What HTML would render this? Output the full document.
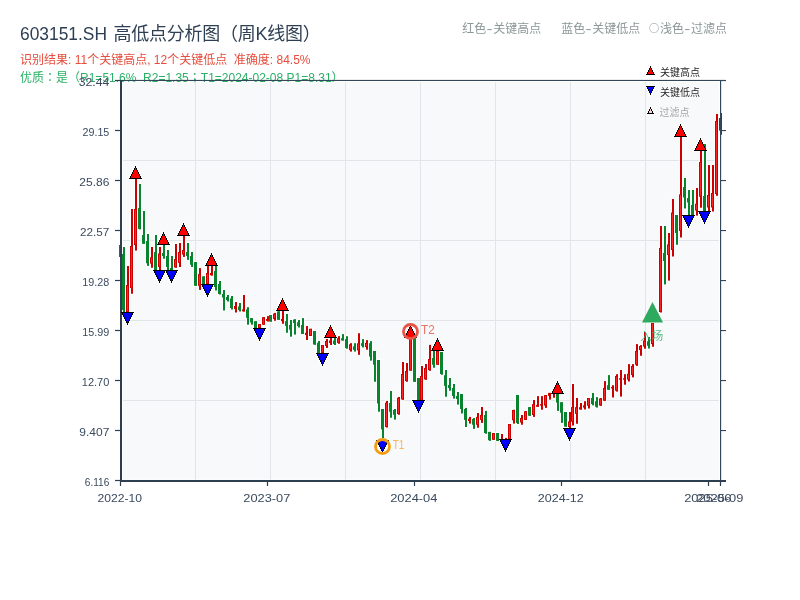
<!DOCTYPE html>
<html><head><meta charset="utf-8"><title>603151.SH</title>
<style>
html,body{margin:0;padding:0;background:#fff;}
body{width:800px;height:600px;overflow:hidden;position:relative;font-family:"Liberation Sans","Noto Sans CJK SC",sans-serif;}
svg{position:absolute;left:0;top:0;will-change:transform;}
svg text{font-family:"Liberation Sans","Noto Sans CJK SC",sans-serif;white-space:pre;}
</style></head><body>
<svg width="800" height="600" viewBox="0 0 800 600">

<text y="40" font-size="18" fill="#2f4054"><tspan x="20" textLength="87" lengthAdjust="spacingAndGlyphs">603151.SH</tspan><tspan x="108.65" letter-spacing="-0.25" xml:space="preserve"> 高低点分析图（周K线图）</tspan></text>
<text x="20" y="63.8" font-size="12" fill="#e74c3c" xml:space="preserve">识别结果: 11个关键高点, 12个关键低点  准确度: 84.5%</text>
<text x="20" y="81.5" font-size="12" fill="#2bb066" xml:space="preserve">优质<tspan font-family="Noto Sans CJK JP,Noto Sans CJK SC,sans-serif">：</tspan>是（R1=51.6%  R2=1.35<tspan font-family="Noto Sans CJK JP,Noto Sans CJK SC,sans-serif">；</tspan>T1=2024-02-08 P1=8.31）</text>
<text y="33" font-size="12" fill="#8b9798"><tspan x="462.2">红色</tspan><tspan x="486.5" textLength="6" lengthAdjust="spacingAndGlyphs">-</tspan><tspan x="493.2">关键高点</tspan></text>
<text y="33" font-size="12" fill="#8b9798"><tspan x="561.2">蓝色</tspan><tspan x="585.5" textLength="6" lengthAdjust="spacingAndGlyphs">-</tspan><tspan x="592.2">关键低点</tspan></text>
<text y="33" font-size="12" fill="#8b9798"><tspan x="648.9" dy="-0.6" font-size="10.2" font-family="Noto Sans CJK SC,sans-serif">○</tspan><tspan dy="0.6" font-size="1"> </tspan><tspan x="660">浅色</tspan><tspan x="684.3" textLength="6" lengthAdjust="spacingAndGlyphs">-</tspan><tspan x="691">过滤点</tspan></text>
<rect x="123" y="82.2" width="595.75" height="397.4" fill="#f8f9fb"/>
<rect x="195" y="82.2" width="1" height="397.4" fill="#e1e5ea"/>
<rect x="270" y="82.2" width="1" height="397.4" fill="#e1e5ea"/>
<rect x="345" y="82.2" width="1" height="397.4" fill="#e1e5ea"/>
<rect x="420" y="82.2" width="1" height="397.4" fill="#e1e5ea"/>
<rect x="495" y="82.2" width="1" height="397.4" fill="#e1e5ea"/>
<rect x="570" y="82.2" width="1" height="397.4" fill="#e1e5ea"/>
<rect x="645" y="82.2" width="1" height="397.4" fill="#e1e5ea"/>
<rect x="123" y="160" width="595.75" height="1" fill="#e1e5ea"/>
<rect x="123" y="240" width="595.75" height="1" fill="#e1e5ea"/>
<rect x="123" y="320" width="595.75" height="1" fill="#e1e5ea"/>
<rect x="123" y="400" width="595.75" height="1" fill="#e1e5ea"/>
<rect x="115" y="79.9" width="5" height="1.2" fill="#2c3e50"/>
<text x="109.3" y="85.9" font-size="11" fill="#3a4a5e" text-anchor="end" textLength="30.5" lengthAdjust="spacingAndGlyphs">32.44</text>
<rect x="115" y="129.9" width="5" height="1.2" fill="#2c3e50"/>
<text x="109.3" y="135.9" font-size="11" fill="#3a4a5e" text-anchor="end" textLength="26.8" lengthAdjust="spacingAndGlyphs">29.15</text>
<rect x="115" y="179.9" width="5" height="1.2" fill="#2c3e50"/>
<text x="109.3" y="185.9" font-size="11" fill="#3a4a5e" text-anchor="end" textLength="30" lengthAdjust="spacingAndGlyphs">25.86</text>
<rect x="115" y="229.9" width="5" height="1.2" fill="#2c3e50"/>
<text x="109.3" y="235.9" font-size="11" fill="#3a4a5e" text-anchor="end" textLength="29.3" lengthAdjust="spacingAndGlyphs">22.57</text>
<rect x="115" y="279.9" width="5" height="1.2" fill="#2c3e50"/>
<text x="109.3" y="285.9" font-size="11" fill="#3a4a5e" text-anchor="end" textLength="27" lengthAdjust="spacingAndGlyphs">19.28</text>
<rect x="115" y="329.9" width="5" height="1.2" fill="#2c3e50"/>
<text x="109.3" y="335.9" font-size="11" fill="#3a4a5e" text-anchor="end" textLength="27" lengthAdjust="spacingAndGlyphs">15.99</text>
<rect x="115" y="379.9" width="5" height="1.2" fill="#2c3e50"/>
<text x="109.3" y="385.9" font-size="11" fill="#3a4a5e" text-anchor="end" textLength="27.5" lengthAdjust="spacingAndGlyphs">12.70</text>
<rect x="115" y="429.9" width="5" height="1.2" fill="#2c3e50"/>
<text x="109.3" y="435.9" font-size="11" fill="#3a4a5e" text-anchor="end" textLength="30" lengthAdjust="spacingAndGlyphs">9.407</text>
<rect x="115" y="479.9" width="5" height="1.2" fill="#2c3e50"/>
<text x="109.3" y="485.9" font-size="11" fill="#3a4a5e" text-anchor="end" textLength="24.5" lengthAdjust="spacingAndGlyphs">6.116</text>
<rect x="119.9" y="481" width="1.2" height="5" fill="#2c3e50"/>
<text x="119.8" y="502" font-size="11" fill="#3a4a5e" text-anchor="middle" textLength="44.6" lengthAdjust="spacingAndGlyphs">2022-10</text>
<rect x="266.9" y="481" width="1.2" height="5" fill="#2c3e50"/>
<text x="266.8" y="502" font-size="11" fill="#3a4a5e" text-anchor="middle" textLength="47" lengthAdjust="spacingAndGlyphs">2023-07</text>
<rect x="413.9" y="481" width="1.2" height="5" fill="#2c3e50"/>
<text x="413.8" y="502" font-size="11" fill="#3a4a5e" text-anchor="middle" textLength="47.3" lengthAdjust="spacingAndGlyphs">2024-04</text>
<rect x="560.9" y="481" width="1.2" height="5" fill="#2c3e50"/>
<text x="560.8" y="502" font-size="11" fill="#3a4a5e" text-anchor="middle" textLength="45.9" lengthAdjust="spacingAndGlyphs">2024-12</text>
<rect x="707.9" y="481" width="1.2" height="5" fill="#2c3e50"/>
<text x="707.8" y="502" font-size="11" fill="#3a4a5e" text-anchor="middle" textLength="47.3" lengthAdjust="spacingAndGlyphs">2025-06</text>
<rect x="719.9" y="481" width="1.2" height="5" fill="#2c3e50"/>
<text x="719.8" y="502" font-size="11" fill="#3a4a5e" text-anchor="middle" textLength="47.3" lengthAdjust="spacingAndGlyphs">2025-09</text>
<g id="mhalo"><path d="M135.5 167.12 L141.19 178.5 L129.81 178.5 Z" fill="none" stroke="#fff" stroke-opacity="0.85" stroke-width="3"/><path d="M163.5 233.12 L169.19 244.5 L157.81 244.5 Z" fill="none" stroke="#fff" stroke-opacity="0.85" stroke-width="3"/><path d="M183.5 224.12 L189.19 235.5 L177.81 235.5 Z" fill="none" stroke="#fff" stroke-opacity="0.85" stroke-width="3"/><path d="M211.5 254.12 L217.19 265.5 L205.81 265.5 Z" fill="none" stroke="#fff" stroke-opacity="0.85" stroke-width="3"/><path d="M282.5 299.12 L288.19 310.5 L276.81 310.5 Z" fill="none" stroke="#fff" stroke-opacity="0.85" stroke-width="3"/><path d="M330.5 326.12 L336.19 337.5 L324.81 337.5 Z" fill="none" stroke="#fff" stroke-opacity="0.85" stroke-width="3"/><path d="M437.5 339.12 L443.19 350.5 L431.81 350.5 Z" fill="none" stroke="#fff" stroke-opacity="0.85" stroke-width="3"/><path d="M557.5 382.12 L563.19 393.5 L551.81 393.5 Z" fill="none" stroke="#fff" stroke-opacity="0.85" stroke-width="3"/><path d="M680.5 125.12 L686.19 136.5 L674.81 136.5 Z" fill="none" stroke="#fff" stroke-opacity="0.85" stroke-width="3"/><path d="M700.5 139.12 L706.19 150.5 L694.81 150.5 Z" fill="none" stroke="#fff" stroke-opacity="0.85" stroke-width="3"/><path d="M127.5 323.88 L133.19 312.5 L121.81 312.5 Z" fill="none" stroke="#fff" stroke-opacity="0.85" stroke-width="3"/><path d="M159.5 281.88 L165.19 270.5 L153.81 270.5 Z" fill="none" stroke="#fff" stroke-opacity="0.85" stroke-width="3"/><path d="M171.5 281.88 L177.19 270.5 L165.81 270.5 Z" fill="none" stroke="#fff" stroke-opacity="0.85" stroke-width="3"/><path d="M207.5 295.88 L213.19 284.5 L201.81 284.5 Z" fill="none" stroke="#fff" stroke-opacity="0.85" stroke-width="3"/><path d="M259.5 339.88 L265.19 328.5 L253.81 328.5 Z" fill="none" stroke="#fff" stroke-opacity="0.85" stroke-width="3"/><path d="M322.5 364.88 L328.19 353.5 L316.81 353.5 Z" fill="none" stroke="#fff" stroke-opacity="0.85" stroke-width="3"/><path d="M418.5 411.88 L424.19 400.5 L412.81 400.5 Z" fill="none" stroke="#fff" stroke-opacity="0.85" stroke-width="3"/><path d="M505.5 450.88 L511.19 439.5 L499.81 439.5 Z" fill="none" stroke="#fff" stroke-opacity="0.85" stroke-width="3"/><path d="M569.5 439.88 L575.19 428.5 L563.81 428.5 Z" fill="none" stroke="#fff" stroke-opacity="0.85" stroke-width="3"/><path d="M688.5 226.88 L694.19 215.5 L682.81 215.5 Z" fill="none" stroke="#fff" stroke-opacity="0.85" stroke-width="3"/><path d="M704.5 222.88 L710.19 211.5 L698.81 211.5 Z" fill="none" stroke="#fff" stroke-opacity="0.85" stroke-width="3"/><path d="M382.5 451.88 L388.19 440.5 L376.81 440.5 Z" fill="none" stroke="#fff" stroke-opacity="0.85" stroke-width="3"/><path d="M410.5 326.12 L416.19 337.5 L404.81 337.5 Z" fill="none" stroke="#fff" stroke-opacity="0.85" stroke-width="3"/><path d="M650.5 67.12 L654.19 74.5 L646.81 74.5 Z" fill="none" stroke="#fff" stroke-opacity="0.85" stroke-width="3"/><path d="M650.5 93.88 L654.19 86.5 L646.81 86.5 Z" fill="none" stroke="#fff" stroke-opacity="0.85" stroke-width="3"/><path d="M650.5 108.12 L653.19 113.5 L647.81 113.5 Z" fill="none" stroke="#fff" stroke-opacity="0.85" stroke-width="3"/></g>
<g id="halo" fill="#ffffff" fill-opacity="0.9">
<rect x="122.2" y="246.2" width="3.6" height="67.1"/>
<rect x="121.2" y="253.2" width="4.6" height="57.6"/>
<rect x="126.2" y="265.2" width="3.6" height="48.1"/>
<rect x="125.2" y="284.2" width="4.6" height="28.6"/>
<rect x="130.2" y="208.2" width="3.6" height="86.35"/>
<rect x="129.2" y="245.2" width="4.6" height="43.6"/>
<rect x="134.2" y="177.95" width="3.6" height="73.45"/>
<rect x="133.2" y="208.2" width="4.6" height="37.6"/>
<rect x="138.2" y="183.2" width="3.6" height="47"/>
<rect x="137.2" y="207.2" width="4.6" height="22.6"/>
<rect x="142.2" y="210.2" width="3.6" height="34.35"/>
<rect x="141.2" y="234.2" width="4.6" height="10.35"/>
<rect x="146.2" y="233.2" width="3.6" height="33.5"/>
<rect x="145.2" y="240.2" width="4.6" height="23.85"/>
<rect x="150.2" y="246.2" width="3.6" height="22.35"/>
<rect x="149.2" y="256.45" width="4.6" height="7.95"/>
<rect x="154.2" y="234.2" width="3.6" height="37.35"/>
<rect x="153.2" y="251.2" width="4.6" height="19.6"/>
<rect x="158.2" y="246.2" width="3.6" height="25.35"/>
<rect x="157.2" y="252.7" width="4.6" height="15.1"/>
<rect x="162.2" y="244.2" width="3.6" height="15.35"/>
<rect x="161.2" y="252.2" width="4.6" height="4.6"/>
<rect x="166.2" y="249.2" width="3.6" height="21.6"/>
<rect x="165.2" y="255.2" width="4.6" height="12.6"/>
<rect x="170.2" y="255.2" width="3.6" height="15.6"/>
<rect x="169.2" y="267.2" width="4.6" height="3.6"/>
<rect x="174.2" y="243.2" width="3.6" height="25.35"/>
<rect x="173.2" y="258.2" width="4.6" height="10"/>
<rect x="178.2" y="242.2" width="3.6" height="25.6"/>
<rect x="177.2" y="251.2" width="4.6" height="12.5"/>
<rect x="182.2" y="235.2" width="3.6" height="22.5"/>
<rect x="181.2" y="249.2" width="4.6" height="6.2"/>
<rect x="186.2" y="242.2" width="3.6" height="18.5"/>
<rect x="185.2" y="251.2" width="4.6" height="5.6"/>
<rect x="190.2" y="251.2" width="3.6" height="16.6"/>
<rect x="189.2" y="255.2" width="4.6" height="10.35"/>
<rect x="194.2" y="261.3" width="3.6" height="25.25"/>
<rect x="193.2" y="261.3" width="4.6" height="25.25"/>
<rect x="198.2" y="267.3" width="3.6" height="23.4"/>
<rect x="197.2" y="273.3" width="4.6" height="13.25"/>
<rect x="202.2" y="275.6" width="3.6" height="9.6"/>
<rect x="201.2" y="275.6" width="4.6" height="9.6"/>
<rect x="206.2" y="265.1" width="3.6" height="19.7"/>
<rect x="205.2" y="272.2" width="4.6" height="12.6"/>
<rect x="210.2" y="265.1" width="3.6" height="11.3"/>
<rect x="209.2" y="272.2" width="4.6" height="3.85"/>
<rect x="214.2" y="264.8" width="3.6" height="26.5"/>
<rect x="213.2" y="270.2" width="4.6" height="17.6"/>
<rect x="218.2" y="280.2" width="3.6" height="15.1"/>
<rect x="217.2" y="283.2" width="4.6" height="11.6"/>
<rect x="222.2" y="289.2" width="3.6" height="22.1"/>
<rect x="221.2" y="293.2" width="4.6" height="5.1"/>
<rect x="226.2" y="294.2" width="3.6" height="8.1"/>
<rect x="225.2" y="296.2" width="4.6" height="4.6"/>
<rect x="230.2" y="295.2" width="3.6" height="15.1"/>
<rect x="229.2" y="297.7" width="4.6" height="11.1"/>
<rect x="234.2" y="301.2" width="3.6" height="12.1"/>
<rect x="233.2" y="305.2" width="4.6" height="4.6"/>
<rect x="238.2" y="302.2" width="3.6" height="10.1"/>
<rect x="237.2" y="305.7" width="4.6" height="5.1"/>
<rect x="242.2" y="294.2" width="3.6" height="18.2"/>
<rect x="241.2" y="308.6" width="4.6" height="3.5"/>
<rect x="246.2" y="306.4" width="3.6" height="19.1"/>
<rect x="245.2" y="308.6" width="4.6" height="10"/>
<rect x="250.2" y="317.3" width="3.6" height="8.2"/>
<rect x="249.2" y="317.3" width="4.6" height="6"/>
<rect x="254.2" y="320.45" width="3.6" height="8.45"/>
<rect x="253.2" y="320.45" width="4.6" height="8.45"/>
<rect x="258.2" y="323.2" width="3.6" height="5.7"/>
<rect x="257.2" y="323.2" width="4.6" height="5.7"/>
<rect x="262.2" y="316.4" width="3.6" height="9.1"/>
<rect x="261.2" y="316.4" width="4.6" height="9.1"/>
<rect x="266.2" y="315.3" width="3.6" height="7.1"/>
<rect x="265.2" y="318.2" width="4.6" height="3.5"/>
<rect x="269.2" y="314.3" width="3.6" height="8.1"/>
<rect x="268.2" y="314.3" width="4.6" height="8.1"/>
<rect x="273.2" y="312.1" width="3.6" height="9.45"/>
<rect x="272.2" y="312.8" width="4.6" height="6.9"/>
<rect x="277.2" y="310.6" width="3.6" height="10"/>
<rect x="276.2" y="310.6" width="4.6" height="10"/>
<rect x="281.2" y="310.2" width="3.6" height="14.35"/>
<rect x="280.2" y="318.1" width="4.6" height="3.8"/>
<rect x="285.2" y="313.2" width="3.6" height="20.35"/>
<rect x="284.2" y="320.3" width="4.6" height="6.5"/>
<rect x="289.2" y="319.2" width="3.6" height="18.3"/>
<rect x="288.2" y="324.1" width="4.6" height="6.45"/>
<rect x="293.2" y="318.45" width="3.6" height="16.95"/>
<rect x="292.2" y="318.8" width="4.6" height="5"/>
<rect x="297.2" y="319.2" width="3.6" height="9.1"/>
<rect x="296.2" y="321.45" width="4.6" height="5.35"/>
<rect x="301.2" y="317.3" width="3.6" height="17.5"/>
<rect x="300.2" y="324.2" width="4.6" height="10.6"/>
<rect x="305.2" y="325.2" width="3.6" height="15.6"/>
<rect x="304.2" y="331.9" width="4.6" height="3.9"/>
<rect x="309.2" y="328" width="3.6" height="8.8"/>
<rect x="308.2" y="328" width="4.6" height="8.8"/>
<rect x="313.2" y="330.2" width="3.6" height="15.35"/>
<rect x="312.2" y="330.2" width="4.6" height="15.1"/>
<rect x="317.2" y="340.2" width="3.6" height="13.8"/>
<rect x="316.2" y="342" width="4.6" height="12"/>
<rect x="321.2" y="344.2" width="3.6" height="9.6"/>
<rect x="320.2" y="344.2" width="4.6" height="9.6"/>
<rect x="325.2" y="338.2" width="3.6" height="10.6"/>
<rect x="324.2" y="340.2" width="4.6" height="6.6"/>
<rect x="329.2" y="336.8" width="3.6" height="9"/>
<rect x="328.2" y="339.7" width="4.6" height="4.1"/>
<rect x="333.2" y="336.8" width="3.6" height="9"/>
<rect x="332.2" y="339.7" width="4.6" height="5.1"/>
<rect x="337.2" y="335.4" width="3.6" height="9.15"/>
<rect x="336.2" y="337.4" width="4.6" height="6.3"/>
<rect x="341.2" y="333.3" width="3.6" height="8"/>
<rect x="340.2" y="337.4" width="4.6" height="3.9"/>
<rect x="345.2" y="335.4" width="3.6" height="14.1"/>
<rect x="344.2" y="338.3" width="4.6" height="10.6"/>
<rect x="349.2" y="342.4" width="3.6" height="10"/>
<rect x="348.2" y="343.5" width="4.6" height="7.5"/>
<rect x="353.2" y="342.4" width="3.6" height="10"/>
<rect x="352.2" y="345.6" width="4.6" height="5.1"/>
<rect x="357.2" y="332.45" width="3.6" height="23.15"/>
<rect x="356.2" y="342.5" width="4.6" height="8.7"/>
<rect x="361.2" y="338.3" width="3.6" height="10"/>
<rect x="360.2" y="342.4" width="4.6" height="4.2"/>
<rect x="365.2" y="339.3" width="3.6" height="11.2"/>
<rect x="364.2" y="342.2" width="4.6" height="5.6"/>
<rect x="369.2" y="340.3" width="3.6" height="21.15"/>
<rect x="368.2" y="342.4" width="4.6" height="15"/>
<rect x="373.2" y="350.2" width="3.6" height="32.35"/>
<rect x="372.2" y="350.2" width="4.6" height="15.2"/>
<rect x="377.2" y="359.2" width="3.6" height="53.35"/>
<rect x="376.2" y="359.2" width="4.6" height="45.1"/>
<rect x="381.2" y="408.2" width="3.6" height="30.6"/>
<rect x="380.2" y="408.2" width="4.6" height="22"/>
<rect x="385.2" y="400.1" width="3.6" height="28.2"/>
<rect x="384.2" y="401.95" width="4.6" height="25.85"/>
<rect x="389.2" y="390.2" width="3.6" height="28.35"/>
<rect x="388.2" y="402.2" width="4.6" height="10.35"/>
<rect x="393.2" y="408.2" width="3.6" height="12.2"/>
<rect x="392.2" y="409.2" width="4.6" height="6.35"/>
<rect x="397.2" y="396.2" width="3.6" height="19.35"/>
<rect x="396.2" y="396.95" width="4.6" height="17.85"/>
<rect x="401.2" y="361.2" width="3.6" height="39.35"/>
<rect x="400.2" y="373.2" width="4.6" height="27"/>
<rect x="405.2" y="362.2" width="3.6" height="20.35"/>
<rect x="404.2" y="370.2" width="4.6" height="11.6"/>
<rect x="409.2" y="336.2" width="3.6" height="35.2"/>
<rect x="408.2" y="336.2" width="4.6" height="35.2"/>
<rect x="413.2" y="336.7" width="3.6" height="45.85"/>
<rect x="412.2" y="336.7" width="4.6" height="45.85"/>
<rect x="417.2" y="377.2" width="3.6" height="24.1"/>
<rect x="416.2" y="377.2" width="4.6" height="24.1"/>
<rect x="420.2" y="365.2" width="3.6" height="36.1"/>
<rect x="419.2" y="375.1" width="4.6" height="26.2"/>
<rect x="424.2" y="363.2" width="3.6" height="17.35"/>
<rect x="423.2" y="367.2" width="4.6" height="13"/>
<rect x="428.2" y="344.1" width="3.6" height="27.45"/>
<rect x="427.2" y="358.2" width="4.6" height="12.6"/>
<rect x="432.2" y="350.1" width="3.6" height="18.45"/>
<rect x="431.2" y="357.2" width="4.6" height="8.35"/>
<rect x="436.2" y="350.1" width="3.6" height="15.45"/>
<rect x="435.2" y="350.1" width="4.6" height="15.45"/>
<rect x="440.2" y="351.2" width="3.6" height="24.35"/>
<rect x="439.2" y="351.2" width="4.6" height="23.6"/>
<rect x="444.2" y="369.2" width="3.6" height="28.35"/>
<rect x="443.2" y="374.45" width="4.6" height="12.25"/>
<rect x="448.2" y="377.2" width="3.6" height="14.35"/>
<rect x="447.2" y="384.2" width="4.6" height="4.6"/>
<rect x="452.2" y="383.2" width="3.6" height="16.2"/>
<rect x="451.2" y="387.2" width="4.6" height="9.6"/>
<rect x="456.2" y="391.2" width="3.6" height="14.2"/>
<rect x="455.2" y="395.2" width="4.6" height="4.6"/>
<rect x="460.2" y="393.2" width="3.6" height="21.1"/>
<rect x="459.2" y="393.2" width="4.6" height="16.6"/>
<rect x="464.2" y="407.1" width="3.6" height="20.7"/>
<rect x="463.2" y="408.2" width="4.6" height="12.5"/>
<rect x="468.2" y="416.1" width="3.6" height="8.3"/>
<rect x="467.2" y="417.95" width="4.6" height="3.85"/>
<rect x="472.2" y="417.2" width="3.6" height="12.5"/>
<rect x="471.2" y="418.2" width="4.6" height="7.35"/>
<rect x="476.2" y="412.2" width="3.6" height="16.35"/>
<rect x="475.2" y="416.1" width="4.6" height="9.45"/>
<rect x="480.2" y="406.2" width="3.6" height="17.5"/>
<rect x="479.2" y="414.2" width="4.6" height="6.5"/>
<rect x="484.2" y="410.1" width="3.6" height="24.45"/>
<rect x="483.2" y="414.2" width="4.6" height="19.6"/>
<rect x="488.2" y="431.1" width="3.6" height="10.6"/>
<rect x="487.2" y="431.1" width="4.6" height="9.9"/>
<rect x="492.2" y="432.2" width="3.6" height="8.35"/>
<rect x="491.2" y="432.2" width="4.6" height="8.35"/>
<rect x="496.2" y="432.2" width="3.6" height="9.5"/>
<rect x="495.2" y="432.2" width="4.6" height="9.5"/>
<rect x="500.2" y="433.2" width="3.6" height="7"/>
<rect x="499.2" y="438.2" width="4.6" height="2"/>
<rect x="504.2" y="437.1" width="3.6" height="3.1"/>
<rect x="503.2" y="438.2" width="4.6" height="2"/>
<rect x="508.2" y="423.2" width="3.6" height="17"/>
<rect x="507.2" y="423.2" width="4.6" height="17"/>
<rect x="512.2" y="408.95" width="3.6" height="15.45"/>
<rect x="511.2" y="409.2" width="4.6" height="11.85"/>
<rect x="516.2" y="394.2" width="3.6" height="30.6"/>
<rect x="515.2" y="394.2" width="4.6" height="29.6"/>
<rect x="520.2" y="414.2" width="3.6" height="11.35"/>
<rect x="519.2" y="417.2" width="4.6" height="6.1"/>
<rect x="524.2" y="410.45" width="3.6" height="10.25"/>
<rect x="523.2" y="410.45" width="4.6" height="10.25"/>
<rect x="528.2" y="406.3" width="3.6" height="10.25"/>
<rect x="527.2" y="406.3" width="4.6" height="10.25"/>
<rect x="532.2" y="399.2" width="3.6" height="18.5"/>
<rect x="531.2" y="403.3" width="4.6" height="12.5"/>
<rect x="536.2" y="395.3" width="3.6" height="12.25"/>
<rect x="535.2" y="404.1" width="4.6" height="3.45"/>
<rect x="540.2" y="395.3" width="3.6" height="15.25"/>
<rect x="539.2" y="403.3" width="4.6" height="3.1"/>
<rect x="544.2" y="394.3" width="3.6" height="14.4"/>
<rect x="543.2" y="394.3" width="4.6" height="12.1"/>
<rect x="548.2" y="392.1" width="3.6" height="8.3"/>
<rect x="547.2" y="392.1" width="4.6" height="4.6"/>
<rect x="552.2" y="393.2" width="3.6" height="5.35"/>
<rect x="556.2" y="393.2" width="3.6" height="18.5"/>
<rect x="555.2" y="393.2" width="4.6" height="10.2"/>
<rect x="560.2" y="401.45" width="3.6" height="22.25"/>
<rect x="559.2" y="401.45" width="4.6" height="12.1"/>
<rect x="564.2" y="411.2" width="3.6" height="16.2"/>
<rect x="563.2" y="411.2" width="4.6" height="16.2"/>
<rect x="568.2" y="411.2" width="3.6" height="17.6"/>
<rect x="567.2" y="420.6" width="4.6" height="7.2"/>
<rect x="571.2" y="383.2" width="3.6" height="43.1"/>
<rect x="570.2" y="406.3" width="4.6" height="16.25"/>
<rect x="575.2" y="397.2" width="3.6" height="27.35"/>
<rect x="574.2" y="406.4" width="4.6" height="8.3"/>
<rect x="579.2" y="402.2" width="3.6" height="8.1"/>
<rect x="578.2" y="406.4" width="4.6" height="3.9"/>
<rect x="583.2" y="400.4" width="3.6" height="9.9"/>
<rect x="582.2" y="404.5" width="4.6" height="3.9"/>
<rect x="587.2" y="397.2" width="3.6" height="12.1"/>
<rect x="586.2" y="397.2" width="4.6" height="9.4"/>
<rect x="591.2" y="392.2" width="3.6" height="13.9"/>
<rect x="590.2" y="397.2" width="4.6" height="7.6"/>
<rect x="595.2" y="396.3" width="3.6" height="12.1"/>
<rect x="594.2" y="400.4" width="4.6" height="7.1"/>
<rect x="599.2" y="397.2" width="3.6" height="9.4"/>
<rect x="598.2" y="397.7" width="4.6" height="8.6"/>
<rect x="603.2" y="380.3" width="3.6" height="21.25"/>
<rect x="602.2" y="387.1" width="4.6" height="14.45"/>
<rect x="607.2" y="374.3" width="3.6" height="16.25"/>
<rect x="606.2" y="384.4" width="4.6" height="6.15"/>
<rect x="611.2" y="384.4" width="3.6" height="13.9"/>
<rect x="610.2" y="386.2" width="4.6" height="3"/>
<rect x="615.2" y="373.4" width="3.6" height="19"/>
<rect x="614.2" y="375.2" width="4.6" height="16.3"/>
<rect x="619.2" y="369.2" width="3.6" height="28.2"/>
<rect x="618.2" y="377.5" width="4.6" height="3"/>
<rect x="623.2" y="373.4" width="3.6" height="12.1"/>
<rect x="622.2" y="377.5" width="4.6" height="3"/>
<rect x="627.2" y="363.3" width="3.6" height="19"/>
<rect x="626.2" y="372.9" width="4.6" height="7.6"/>
<rect x="631.2" y="363.3" width="3.6" height="14.9"/>
<rect x="630.2" y="365.2" width="4.6" height="10.6"/>
<rect x="635.2" y="343.3" width="3.6" height="23.4"/>
<rect x="634.2" y="350.1" width="4.6" height="15.45"/>
<rect x="639.2" y="344.3" width="3.6" height="12.25"/>
<rect x="638.2" y="345.2" width="4.6" height="5.7"/>
<rect x="643.2" y="331.2" width="3.6" height="18.35"/>
<rect x="642.2" y="339.7" width="4.6" height="7.6"/>
<rect x="647.2" y="336.2" width="3.6" height="13.1"/>
<rect x="646.2" y="340.45" width="4.6" height="6.1"/>
<rect x="651.2" y="322.2" width="3.6" height="25.35"/>
<rect x="650.2" y="322.2" width="4.6" height="22.6"/>
<rect x="655.2" y="312.2" width="3.6" height="10.6"/>
<rect x="654.2" y="314" width="4.6" height="7.45"/>
<rect x="659.2" y="225.2" width="3.6" height="88.1"/>
<rect x="658.2" y="247.2" width="4.6" height="65.6"/>
<rect x="663.2" y="225.2" width="3.6" height="60"/>
<rect x="662.2" y="252.2" width="4.6" height="9.6"/>
<rect x="667.2" y="232.2" width="3.6" height="49.2"/>
<rect x="666.2" y="243.6" width="4.6" height="12.2"/>
<rect x="671.2" y="198.2" width="3.6" height="59.1"/>
<rect x="670.2" y="211.7" width="4.6" height="39.1"/>
<rect x="675.2" y="214.2" width="3.6" height="31.35"/>
<rect x="674.2" y="214.2" width="4.6" height="19.6"/>
<rect x="679.2" y="135.7" width="3.6" height="102.6"/>
<rect x="678.2" y="193.6" width="4.6" height="38.2"/>
<rect x="683.2" y="177.2" width="3.6" height="32.1"/>
<rect x="682.2" y="186.2" width="4.6" height="12.1"/>
<rect x="687.2" y="189.2" width="3.6" height="26.6"/>
<rect x="686.2" y="197.2" width="4.6" height="6.1"/>
<rect x="691.2" y="189.2" width="3.6" height="26.6"/>
<rect x="690.2" y="204.2" width="4.6" height="11.6"/>
<rect x="695.2" y="187.2" width="3.6" height="29.2"/>
<rect x="694.2" y="202.95" width="4.6" height="8.45"/>
<rect x="699.2" y="149.8" width="3.6" height="58.7"/>
<rect x="698.2" y="161.2" width="4.6" height="36.3"/>
<rect x="703.2" y="143.2" width="3.6" height="68.85"/>
<rect x="702.2" y="195.2" width="4.6" height="16.6"/>
<rect x="707.2" y="164.2" width="3.6" height="47.6"/>
<rect x="706.2" y="194.2" width="4.6" height="14.1"/>
<rect x="711.2" y="164.2" width="3.6" height="48.1"/>
<rect x="710.2" y="192.2" width="4.6" height="16.1"/>
<rect x="715.2" y="113.2" width="3.6" height="83.4"/>
<rect x="714.2" y="120.2" width="4.6" height="74.6"/>
<rect x="719.2" y="112.2" width="3.6" height="23.35"/>
<rect x="718.2" y="117.2" width="4.6" height="14.2"/>
</g>
<g id="candles">
<rect x="119" y="245" width="1" height="12" fill="#08842e"/>
<rect x="123" y="247" width="2" height="65.5" fill="#08842e"/>
<rect x="122" y="254" width="3" height="56" fill="#08842e"/>
<rect x="127" y="266" width="2" height="46.5" fill="#cc0000"/>
<rect x="126" y="285" width="3" height="27" fill="#cc0000"/>
<rect x="127" y="286" width="1" height="25" fill="#ff2424"/>
<rect x="131" y="209" width="2" height="84.75" fill="#cc0000"/>
<rect x="130" y="246" width="3" height="42" fill="#cc0000"/>
<rect x="131" y="247" width="1" height="40" fill="#ff2424"/>
<rect x="135" y="178.75" width="2" height="71.85" fill="#cc0000"/>
<rect x="134" y="209" width="3" height="36" fill="#cc0000"/>
<rect x="135" y="210" width="1" height="34" fill="#ff2424"/>
<rect x="139" y="184" width="2" height="45.4" fill="#08842e"/>
<rect x="138" y="208" width="3" height="21" fill="#08842e"/>
<rect x="143" y="211" width="2" height="32.75" fill="#08842e"/>
<rect x="142" y="235" width="3" height="8.75" fill="#08842e"/>
<rect x="147" y="234" width="2" height="31.9" fill="#08842e"/>
<rect x="146" y="241" width="3" height="22.25" fill="#08842e"/>
<rect x="151" y="247" width="2" height="20.75" fill="#cc0000"/>
<rect x="150" y="257.25" width="3" height="6.35" fill="#cc0000"/>
<rect x="151" y="258.25" width="1" height="4.35" fill="#ff2424"/>
<rect x="155" y="235" width="2" height="35.75" fill="#08842e"/>
<rect x="154" y="252" width="3" height="18" fill="#08842e"/>
<rect x="159" y="247" width="2" height="23.75" fill="#cc0000"/>
<rect x="158" y="253.5" width="3" height="13.5" fill="#cc0000"/>
<rect x="159" y="254.5" width="1" height="11.5" fill="#ff2424"/>
<rect x="163" y="245" width="2" height="13.75" fill="#08842e"/>
<rect x="162" y="253" width="3" height="3" fill="#08842e"/>
<rect x="167" y="250" width="2" height="20" fill="#08842e"/>
<rect x="166" y="256" width="3" height="11" fill="#08842e"/>
<rect x="171" y="256" width="2" height="14" fill="#08842e"/>
<rect x="170" y="268" width="3" height="2" fill="#08842e"/>
<rect x="175" y="244" width="2" height="23.75" fill="#cc0000"/>
<rect x="174" y="259" width="3" height="8.4" fill="#cc0000"/>
<rect x="175" y="260" width="1" height="6.4" fill="#ff2424"/>
<rect x="179" y="243" width="2" height="24" fill="#cc0000"/>
<rect x="178" y="252" width="3" height="10.9" fill="#cc0000"/>
<rect x="179" y="253" width="1" height="8.9" fill="#ff2424"/>
<rect x="183" y="236" width="2" height="20.9" fill="#cc0000"/>
<rect x="182" y="250" width="3" height="4.6" fill="#cc0000"/>
<rect x="183" y="251" width="1" height="2.6" fill="#ff2424"/>
<rect x="187" y="243" width="2" height="16.9" fill="#08842e"/>
<rect x="186" y="252" width="3" height="4" fill="#08842e"/>
<rect x="191" y="252" width="2" height="15" fill="#08842e"/>
<rect x="190" y="256" width="3" height="8.75" fill="#08842e"/>
<rect x="195" y="262.1" width="2" height="23.65" fill="#08842e"/>
<rect x="194" y="262.1" width="3" height="23.65" fill="#08842e"/>
<rect x="199" y="268.1" width="2" height="21.8" fill="#cc0000"/>
<rect x="198" y="274.1" width="3" height="11.65" fill="#cc0000"/>
<rect x="199" y="275.1" width="1" height="9.65" fill="#ff2424"/>
<rect x="203" y="276.4" width="2" height="8" fill="#08842e"/>
<rect x="202" y="276.4" width="3" height="8" fill="#08842e"/>
<rect x="207" y="265.9" width="2" height="18.1" fill="#cc0000"/>
<rect x="206" y="273" width="3" height="11" fill="#cc0000"/>
<rect x="207" y="274" width="1" height="9" fill="#ff2424"/>
<rect x="211" y="265.9" width="2" height="9.7" fill="#cc0000"/>
<rect x="210" y="273" width="3" height="2.25" fill="#cc0000"/>
<rect x="215" y="265.6" width="2" height="24.9" fill="#08842e"/>
<rect x="214" y="271" width="3" height="16" fill="#08842e"/>
<rect x="219" y="281" width="2" height="13.5" fill="#08842e"/>
<rect x="218" y="284" width="3" height="10" fill="#08842e"/>
<rect x="223" y="290" width="2" height="20.5" fill="#08842e"/>
<rect x="222" y="294" width="3" height="3.5" fill="#08842e"/>
<rect x="227" y="295" width="2" height="6.5" fill="#08842e"/>
<rect x="226" y="297" width="3" height="3" fill="#08842e"/>
<rect x="231" y="296" width="2" height="13.5" fill="#08842e"/>
<rect x="230" y="298.5" width="3" height="9.5" fill="#08842e"/>
<rect x="235" y="302" width="2" height="10.5" fill="#cc0000"/>
<rect x="234" y="306" width="3" height="3" fill="#cc0000"/>
<rect x="239" y="303" width="2" height="8.5" fill="#08842e"/>
<rect x="238" y="306.5" width="3" height="3.5" fill="#08842e"/>
<rect x="243" y="295" width="2" height="16.6" fill="#cc0000"/>
<rect x="242" y="309.4" width="3" height="1.9" fill="#cc0000"/>
<rect x="247" y="307.2" width="2" height="17.5" fill="#08842e"/>
<rect x="246" y="309.4" width="3" height="8.4" fill="#08842e"/>
<rect x="251" y="318.1" width="2" height="6.6" fill="#08842e"/>
<rect x="250" y="318.1" width="3" height="4.4" fill="#08842e"/>
<rect x="255" y="321.25" width="2" height="6.85" fill="#08842e"/>
<rect x="254" y="321.25" width="3" height="6.85" fill="#08842e"/>
<rect x="259" y="324" width="2" height="4.1" fill="#cc0000"/>
<rect x="258" y="324" width="3" height="4.1" fill="#cc0000"/>
<rect x="259" y="325" width="1" height="2.1" fill="#ff2424"/>
<rect x="263" y="317.2" width="2" height="7.5" fill="#cc0000"/>
<rect x="262" y="317.2" width="3" height="7.5" fill="#cc0000"/>
<rect x="263" y="318.2" width="1" height="5.5" fill="#ff2424"/>
<rect x="267" y="316.1" width="2" height="5.5" fill="#cc0000"/>
<rect x="266" y="319" width="3" height="1.9" fill="#cc0000"/>
<rect x="270" y="315.1" width="2" height="6.5" fill="#08842e"/>
<rect x="269" y="315.1" width="3" height="6.5" fill="#08842e"/>
<rect x="274" y="312.9" width="2" height="7.85" fill="#cc0000"/>
<rect x="273" y="313.6" width="3" height="5.3" fill="#cc0000"/>
<rect x="274" y="314.6" width="1" height="3.3" fill="#ff2424"/>
<rect x="278" y="311.4" width="2" height="8.4" fill="#08842e"/>
<rect x="277" y="311.4" width="3" height="8.4" fill="#08842e"/>
<rect x="282" y="311" width="2" height="12.75" fill="#cc0000"/>
<rect x="281" y="318.9" width="3" height="2.2" fill="#cc0000"/>
<rect x="286" y="314" width="2" height="18.75" fill="#08842e"/>
<rect x="285" y="321.1" width="3" height="4.9" fill="#08842e"/>
<rect x="290" y="320" width="2" height="16.7" fill="#08842e"/>
<rect x="289" y="324.9" width="3" height="4.85" fill="#08842e"/>
<rect x="294" y="319.25" width="2" height="15.35" fill="#08842e"/>
<rect x="293" y="319.6" width="3" height="3.4" fill="#08842e"/>
<rect x="298" y="320" width="2" height="7.5" fill="#08842e"/>
<rect x="297" y="322.25" width="3" height="3.75" fill="#08842e"/>
<rect x="302" y="318.1" width="2" height="15.9" fill="#08842e"/>
<rect x="301" y="325" width="3" height="9" fill="#08842e"/>
<rect x="306" y="326" width="2" height="14" fill="#cc0000"/>
<rect x="305" y="332.7" width="3" height="2.3" fill="#cc0000"/>
<rect x="310" y="328.8" width="2" height="7.2" fill="#cc0000"/>
<rect x="309" y="328.8" width="3" height="7.2" fill="#cc0000"/>
<rect x="310" y="329.8" width="1" height="5.2" fill="#ff2424"/>
<rect x="314" y="331" width="2" height="13.75" fill="#08842e"/>
<rect x="313" y="331" width="3" height="13.5" fill="#08842e"/>
<rect x="318" y="341" width="2" height="12.2" fill="#08842e"/>
<rect x="317" y="342.8" width="3" height="10.4" fill="#08842e"/>
<rect x="322" y="345" width="2" height="8" fill="#cc0000"/>
<rect x="321" y="345" width="3" height="8" fill="#cc0000"/>
<rect x="322" y="346" width="1" height="6" fill="#ff2424"/>
<rect x="326" y="339" width="2" height="9" fill="#cc0000"/>
<rect x="325" y="341" width="3" height="5" fill="#cc0000"/>
<rect x="326" y="342" width="1" height="3" fill="#ff2424"/>
<rect x="330" y="337.6" width="2" height="7.4" fill="#cc0000"/>
<rect x="329" y="340.5" width="3" height="2.5" fill="#cc0000"/>
<rect x="334" y="337.6" width="2" height="7.4" fill="#08842e"/>
<rect x="333" y="340.5" width="3" height="3.5" fill="#08842e"/>
<rect x="338" y="336.2" width="2" height="7.55" fill="#cc0000"/>
<rect x="337" y="338.2" width="3" height="4.7" fill="#cc0000"/>
<rect x="338" y="339.2" width="1" height="2.7" fill="#ff2424"/>
<rect x="342" y="334.1" width="2" height="6.4" fill="#08842e"/>
<rect x="341" y="338.2" width="3" height="2.3" fill="#08842e"/>
<rect x="346" y="336.2" width="2" height="12.5" fill="#08842e"/>
<rect x="345" y="339.1" width="3" height="9" fill="#08842e"/>
<rect x="350" y="343.2" width="2" height="8.4" fill="#cc0000"/>
<rect x="349" y="344.3" width="3" height="5.9" fill="#cc0000"/>
<rect x="350" y="345.3" width="1" height="3.9" fill="#ff2424"/>
<rect x="354" y="343.2" width="2" height="8.4" fill="#08842e"/>
<rect x="353" y="346.4" width="3" height="3.5" fill="#08842e"/>
<rect x="358" y="333.25" width="2" height="21.55" fill="#cc0000"/>
<rect x="357" y="343.3" width="3" height="7.1" fill="#cc0000"/>
<rect x="358" y="344.3" width="1" height="5.1" fill="#ff2424"/>
<rect x="362" y="339.1" width="2" height="8.4" fill="#08842e"/>
<rect x="361" y="343.2" width="3" height="2.6" fill="#08842e"/>
<rect x="366" y="340.1" width="2" height="9.6" fill="#cc0000"/>
<rect x="365" y="343" width="3" height="4" fill="#cc0000"/>
<rect x="366" y="344" width="1" height="2" fill="#ff2424"/>
<rect x="370" y="341.1" width="2" height="19.55" fill="#08842e"/>
<rect x="369" y="343.2" width="3" height="13.4" fill="#08842e"/>
<rect x="374" y="351" width="2" height="30.75" fill="#08842e"/>
<rect x="373" y="351" width="3" height="13.6" fill="#08842e"/>
<rect x="378" y="360" width="2" height="51.75" fill="#08842e"/>
<rect x="377" y="360" width="3" height="43.5" fill="#08842e"/>
<rect x="382" y="409" width="2" height="29" fill="#08842e"/>
<rect x="381" y="409" width="3" height="20.4" fill="#08842e"/>
<rect x="386" y="400.9" width="2" height="26.6" fill="#cc0000"/>
<rect x="385" y="402.75" width="3" height="24.25" fill="#cc0000"/>
<rect x="386" y="403.75" width="1" height="22.25" fill="#ff2424"/>
<rect x="390" y="391" width="2" height="26.75" fill="#08842e"/>
<rect x="389" y="403" width="3" height="8.75" fill="#08842e"/>
<rect x="394" y="409" width="2" height="10.6" fill="#08842e"/>
<rect x="393" y="410" width="3" height="4.75" fill="#08842e"/>
<rect x="398" y="397" width="2" height="17.75" fill="#cc0000"/>
<rect x="397" y="397.75" width="3" height="16.25" fill="#cc0000"/>
<rect x="398" y="398.75" width="1" height="14.25" fill="#ff2424"/>
<rect x="402" y="362" width="2" height="37.75" fill="#cc0000"/>
<rect x="401" y="374" width="3" height="25.4" fill="#cc0000"/>
<rect x="402" y="375" width="1" height="23.4" fill="#ff2424"/>
<rect x="406" y="363" width="2" height="18.75" fill="#cc0000"/>
<rect x="405" y="371" width="3" height="10" fill="#cc0000"/>
<rect x="406" y="372" width="1" height="8" fill="#ff2424"/>
<rect x="410" y="337" width="2" height="33.6" fill="#cc0000"/>
<rect x="409" y="337" width="3" height="33.6" fill="#cc0000"/>
<rect x="410" y="338" width="1" height="31.6" fill="#ff2424"/>
<rect x="414" y="337.5" width="2" height="44.25" fill="#08842e"/>
<rect x="413" y="337.5" width="3" height="44.25" fill="#08842e"/>
<rect x="418" y="378" width="2" height="22.5" fill="#08842e"/>
<rect x="417" y="378" width="3" height="22.5" fill="#08842e"/>
<rect x="421" y="366" width="2" height="34.5" fill="#cc0000"/>
<rect x="420" y="375.9" width="3" height="24.6" fill="#cc0000"/>
<rect x="421" y="376.9" width="1" height="22.6" fill="#ff2424"/>
<rect x="425" y="364" width="2" height="15.75" fill="#cc0000"/>
<rect x="424" y="368" width="3" height="11.4" fill="#cc0000"/>
<rect x="425" y="369" width="1" height="9.4" fill="#ff2424"/>
<rect x="429" y="344.9" width="2" height="25.85" fill="#cc0000"/>
<rect x="428" y="359" width="3" height="11" fill="#cc0000"/>
<rect x="429" y="360" width="1" height="9" fill="#ff2424"/>
<rect x="433" y="350.9" width="2" height="16.85" fill="#08842e"/>
<rect x="432" y="358" width="3" height="6.75" fill="#08842e"/>
<rect x="437" y="350.9" width="2" height="13.85" fill="#cc0000"/>
<rect x="436" y="350.9" width="3" height="13.85" fill="#cc0000"/>
<rect x="437" y="351.9" width="1" height="11.85" fill="#ff2424"/>
<rect x="441" y="352" width="2" height="22.75" fill="#08842e"/>
<rect x="440" y="352" width="3" height="22" fill="#08842e"/>
<rect x="445" y="370" width="2" height="26.75" fill="#08842e"/>
<rect x="444" y="375.25" width="3" height="10.65" fill="#08842e"/>
<rect x="449" y="378" width="2" height="12.75" fill="#08842e"/>
<rect x="448" y="385" width="3" height="3" fill="#08842e"/>
<rect x="453" y="384" width="2" height="14.6" fill="#08842e"/>
<rect x="452" y="388" width="3" height="8" fill="#08842e"/>
<rect x="457" y="392" width="2" height="12.6" fill="#08842e"/>
<rect x="456" y="396" width="3" height="3" fill="#08842e"/>
<rect x="461" y="394" width="2" height="19.5" fill="#08842e"/>
<rect x="460" y="394" width="3" height="15" fill="#08842e"/>
<rect x="465" y="407.9" width="2" height="19.1" fill="#08842e"/>
<rect x="464" y="409" width="3" height="10.9" fill="#08842e"/>
<rect x="469" y="416.9" width="2" height="6.7" fill="#cc0000"/>
<rect x="468" y="418.75" width="3" height="2.25" fill="#cc0000"/>
<rect x="473" y="418" width="2" height="10.9" fill="#08842e"/>
<rect x="472" y="419" width="3" height="5.75" fill="#08842e"/>
<rect x="477" y="413" width="2" height="14.75" fill="#cc0000"/>
<rect x="476" y="416.9" width="3" height="7.85" fill="#cc0000"/>
<rect x="477" y="417.9" width="1" height="5.85" fill="#ff2424"/>
<rect x="481" y="407" width="2" height="15.9" fill="#cc0000"/>
<rect x="480" y="415" width="3" height="4.9" fill="#cc0000"/>
<rect x="481" y="416" width="1" height="2.9" fill="#ff2424"/>
<rect x="485" y="410.9" width="2" height="22.85" fill="#08842e"/>
<rect x="484" y="415" width="3" height="18" fill="#08842e"/>
<rect x="489" y="431.9" width="2" height="9" fill="#08842e"/>
<rect x="488" y="431.9" width="3" height="8.3" fill="#08842e"/>
<rect x="493" y="433" width="2" height="6.75" fill="#cc0000"/>
<rect x="492" y="433" width="3" height="6.75" fill="#cc0000"/>
<rect x="493" y="434" width="1" height="4.75" fill="#ff2424"/>
<rect x="497" y="433" width="2" height="7.9" fill="#08842e"/>
<rect x="496" y="433" width="3" height="7.9" fill="#08842e"/>
<rect x="501" y="434" width="2" height="5.4" fill="#cc0000"/>
<rect x="500" y="439" width="3" height="0.4" fill="#cc0000"/>
<rect x="505" y="437.9" width="2" height="1.5" fill="#cc0000"/>
<rect x="504" y="439" width="3" height="0.4" fill="#cc0000"/>
<rect x="509" y="424" width="2" height="15.4" fill="#cc0000"/>
<rect x="508" y="424" width="3" height="15.4" fill="#cc0000"/>
<rect x="509" y="425" width="1" height="13.4" fill="#ff2424"/>
<rect x="513" y="409.75" width="2" height="13.85" fill="#cc0000"/>
<rect x="512" y="410" width="3" height="10.25" fill="#cc0000"/>
<rect x="513" y="411" width="1" height="8.25" fill="#ff2424"/>
<rect x="517" y="395" width="2" height="29" fill="#08842e"/>
<rect x="516" y="395" width="3" height="28" fill="#08842e"/>
<rect x="521" y="415" width="2" height="9.75" fill="#cc0000"/>
<rect x="520" y="418" width="3" height="4.5" fill="#cc0000"/>
<rect x="521" y="419" width="1" height="2.5" fill="#ff2424"/>
<rect x="525" y="411.25" width="2" height="8.65" fill="#cc0000"/>
<rect x="524" y="411.25" width="3" height="8.65" fill="#cc0000"/>
<rect x="525" y="412.25" width="1" height="6.65" fill="#ff2424"/>
<rect x="529" y="407.1" width="2" height="8.65" fill="#08842e"/>
<rect x="528" y="407.1" width="3" height="8.65" fill="#08842e"/>
<rect x="533" y="400" width="2" height="16.9" fill="#cc0000"/>
<rect x="532" y="404.1" width="3" height="10.9" fill="#cc0000"/>
<rect x="533" y="405.1" width="1" height="8.9" fill="#ff2424"/>
<rect x="537" y="396.1" width="2" height="10.65" fill="#cc0000"/>
<rect x="536" y="404.9" width="3" height="1.85" fill="#cc0000"/>
<rect x="541" y="396.1" width="2" height="13.65" fill="#cc0000"/>
<rect x="540" y="404.1" width="3" height="1.5" fill="#cc0000"/>
<rect x="545" y="395.1" width="2" height="12.8" fill="#cc0000"/>
<rect x="544" y="395.1" width="3" height="10.5" fill="#cc0000"/>
<rect x="545" y="396.1" width="1" height="8.5" fill="#ff2424"/>
<rect x="549" y="392.9" width="2" height="6.7" fill="#cc0000"/>
<rect x="548" y="392.9" width="3" height="3" fill="#cc0000"/>
<rect x="553" y="394" width="2" height="3.75" fill="#cc0000"/>
<rect x="557" y="394" width="2" height="16.9" fill="#08842e"/>
<rect x="556" y="394" width="3" height="8.6" fill="#08842e"/>
<rect x="561" y="402.25" width="2" height="20.65" fill="#08842e"/>
<rect x="560" y="402.25" width="3" height="10.5" fill="#08842e"/>
<rect x="565" y="412" width="2" height="14.6" fill="#08842e"/>
<rect x="564" y="412" width="3" height="14.6" fill="#08842e"/>
<rect x="569" y="412" width="2" height="16" fill="#cc0000"/>
<rect x="568" y="421.4" width="3" height="5.6" fill="#cc0000"/>
<rect x="569" y="422.4" width="1" height="3.6" fill="#ff2424"/>
<rect x="572" y="384" width="2" height="41.5" fill="#cc0000"/>
<rect x="571" y="407.1" width="3" height="14.65" fill="#cc0000"/>
<rect x="572" y="408.1" width="1" height="12.65" fill="#ff2424"/>
<rect x="576" y="398" width="2" height="25.75" fill="#cc0000"/>
<rect x="575" y="407.2" width="3" height="6.7" fill="#cc0000"/>
<rect x="576" y="408.2" width="1" height="4.7" fill="#ff2424"/>
<rect x="580" y="403" width="2" height="6.5" fill="#cc0000"/>
<rect x="579" y="407.2" width="3" height="2.3" fill="#cc0000"/>
<rect x="584" y="401.2" width="2" height="8.3" fill="#cc0000"/>
<rect x="583" y="405.3" width="3" height="2.3" fill="#cc0000"/>
<rect x="588" y="398" width="2" height="10.5" fill="#cc0000"/>
<rect x="587" y="398" width="3" height="7.8" fill="#cc0000"/>
<rect x="588" y="399" width="1" height="5.8" fill="#ff2424"/>
<rect x="592" y="393" width="2" height="12.3" fill="#08842e"/>
<rect x="591" y="398" width="3" height="6" fill="#08842e"/>
<rect x="596" y="397.1" width="2" height="10.5" fill="#08842e"/>
<rect x="595" y="401.2" width="3" height="5.5" fill="#08842e"/>
<rect x="600" y="398" width="2" height="7.8" fill="#cc0000"/>
<rect x="599" y="398.5" width="3" height="7" fill="#cc0000"/>
<rect x="600" y="399.5" width="1" height="5" fill="#ff2424"/>
<rect x="604" y="381.1" width="2" height="19.65" fill="#cc0000"/>
<rect x="603" y="387.9" width="3" height="12.85" fill="#cc0000"/>
<rect x="604" y="388.9" width="1" height="10.85" fill="#ff2424"/>
<rect x="608" y="375.1" width="2" height="14.65" fill="#08842e"/>
<rect x="607" y="385.2" width="3" height="4.55" fill="#08842e"/>
<rect x="612" y="385.2" width="2" height="12.3" fill="#cc0000"/>
<rect x="611" y="387" width="3" height="1.4" fill="#cc0000"/>
<rect x="616" y="374.2" width="2" height="17.4" fill="#cc0000"/>
<rect x="615" y="376" width="3" height="14.7" fill="#cc0000"/>
<rect x="616" y="377" width="1" height="12.7" fill="#ff2424"/>
<rect x="620" y="370" width="2" height="26.6" fill="#cc0000"/>
<rect x="619" y="378.3" width="3" height="1.4" fill="#cc0000"/>
<rect x="624" y="374.2" width="2" height="10.5" fill="#cc0000"/>
<rect x="623" y="378.3" width="3" height="1.4" fill="#cc0000"/>
<rect x="628" y="364.1" width="2" height="17.4" fill="#cc0000"/>
<rect x="627" y="373.7" width="3" height="6" fill="#cc0000"/>
<rect x="628" y="374.7" width="1" height="4" fill="#ff2424"/>
<rect x="632" y="364.1" width="2" height="13.3" fill="#cc0000"/>
<rect x="631" y="366" width="3" height="9" fill="#cc0000"/>
<rect x="632" y="367" width="1" height="7" fill="#ff2424"/>
<rect x="636" y="344.1" width="2" height="21.8" fill="#cc0000"/>
<rect x="635" y="350.9" width="3" height="13.85" fill="#cc0000"/>
<rect x="636" y="351.9" width="1" height="11.85" fill="#ff2424"/>
<rect x="640" y="345.1" width="2" height="10.65" fill="#cc0000"/>
<rect x="639" y="346" width="3" height="4.1" fill="#cc0000"/>
<rect x="640" y="347" width="1" height="2.1" fill="#ff2424"/>
<rect x="644" y="332" width="2" height="16.75" fill="#cc0000"/>
<rect x="643" y="340.5" width="3" height="6" fill="#cc0000"/>
<rect x="644" y="341.5" width="1" height="4" fill="#ff2424"/>
<rect x="648" y="337" width="2" height="11.5" fill="#08842e"/>
<rect x="647" y="341.25" width="3" height="4.5" fill="#08842e"/>
<rect x="652" y="323" width="2" height="23.75" fill="#cc0000"/>
<rect x="651" y="323" width="3" height="21" fill="#cc0000"/>
<rect x="652" y="324" width="1" height="19" fill="#ff2424"/>
<rect x="656" y="313" width="2" height="9" fill="#cc0000"/>
<rect x="655" y="314.8" width="3" height="5.85" fill="#cc0000"/>
<rect x="656" y="315.8" width="1" height="3.85" fill="#ff2424"/>
<rect x="660" y="226" width="2" height="86.5" fill="#cc0000"/>
<rect x="659" y="248" width="3" height="64" fill="#cc0000"/>
<rect x="660" y="249" width="1" height="62" fill="#ff2424"/>
<rect x="664" y="226" width="2" height="58.4" fill="#08842e"/>
<rect x="663" y="253" width="3" height="8" fill="#08842e"/>
<rect x="668" y="233" width="2" height="47.6" fill="#cc0000"/>
<rect x="667" y="244.4" width="3" height="10.6" fill="#cc0000"/>
<rect x="668" y="245.4" width="1" height="8.6" fill="#ff2424"/>
<rect x="672" y="199" width="2" height="57.5" fill="#cc0000"/>
<rect x="671" y="212.5" width="3" height="37.5" fill="#cc0000"/>
<rect x="672" y="213.5" width="1" height="35.5" fill="#ff2424"/>
<rect x="676" y="215" width="2" height="29.75" fill="#08842e"/>
<rect x="675" y="215" width="3" height="18" fill="#08842e"/>
<rect x="680" y="136.5" width="2" height="101" fill="#cc0000"/>
<rect x="679" y="194.4" width="3" height="36.6" fill="#cc0000"/>
<rect x="680" y="195.4" width="1" height="34.6" fill="#ff2424"/>
<rect x="684" y="178" width="2" height="30.5" fill="#08842e"/>
<rect x="683" y="187" width="3" height="10.5" fill="#08842e"/>
<rect x="688" y="190" width="2" height="25" fill="#08842e"/>
<rect x="687" y="198" width="3" height="4.5" fill="#08842e"/>
<rect x="692" y="190" width="2" height="25" fill="#08842e"/>
<rect x="691" y="205" width="3" height="10" fill="#08842e"/>
<rect x="696" y="188" width="2" height="27.6" fill="#cc0000"/>
<rect x="695" y="203.75" width="3" height="6.85" fill="#cc0000"/>
<rect x="696" y="204.75" width="1" height="4.85" fill="#ff2424"/>
<rect x="700" y="150.6" width="2" height="57.1" fill="#cc0000"/>
<rect x="699" y="162" width="3" height="34.7" fill="#cc0000"/>
<rect x="700" y="163" width="1" height="32.7" fill="#ff2424"/>
<rect x="704" y="144" width="2" height="67.25" fill="#08842e"/>
<rect x="703" y="196" width="3" height="15" fill="#08842e"/>
<rect x="708" y="165" width="2" height="46" fill="#cc0000"/>
<rect x="707" y="195" width="3" height="12.5" fill="#cc0000"/>
<rect x="708" y="196" width="1" height="10.5" fill="#ff2424"/>
<rect x="712" y="165" width="2" height="46.5" fill="#cc0000"/>
<rect x="711" y="193" width="3" height="14.5" fill="#cc0000"/>
<rect x="712" y="194" width="1" height="12.5" fill="#ff2424"/>
<rect x="716" y="114" width="2" height="81.8" fill="#cc0000"/>
<rect x="715" y="121" width="3" height="73" fill="#cc0000"/>
<rect x="716" y="122" width="1" height="71" fill="#ff2424"/>
<rect x="720" y="113" width="2" height="21.75" fill="#cc0000"/>
<rect x="719" y="118" width="3" height="12.6" fill="#cc0000"/>
<rect x="720" y="119" width="1" height="10.6" fill="#ff2424"/>
</g>
<text x="651.8" y="340.3" font-size="11.5" fill="#3db56f" fill-opacity="0.85" text-anchor="middle">入场</text>
<rect x="120" y="79.9" width="606" height="1.1" fill="#33465a"/>
<rect x="720" y="80" width="1.15" height="401" fill="#33465a"/>
<rect x="721" y="80" width="5" height="1.1" fill="#33465a"/>
<rect x="721" y="130" width="5" height="1.1" fill="#33465a"/>
<rect x="721" y="180" width="5" height="1.1" fill="#33465a"/>
<rect x="721" y="230" width="5" height="1.1" fill="#33465a"/>
<rect x="721" y="280" width="5" height="1.1" fill="#33465a"/>
<rect x="721" y="330" width="5" height="1.1" fill="#33465a"/>
<rect x="721" y="380" width="5" height="1.1" fill="#33465a"/>
<rect x="721" y="430" width="5" height="1.1" fill="#33465a"/>
<rect x="721" y="480" width="5" height="1.1" fill="#33465a"/>
<rect x="120" y="80" width="2" height="402" fill="#2c3e50"/>
<rect x="120" y="480" width="606" height="2" fill="#2c3e50"/>
<g id="marks">
<path shape-rendering="crispEdges" d="M135.5 167.12 L141.19 178.5 L129.81 178.5 Z" fill="#ff0000" stroke="#000" stroke-width="1"/>
<path shape-rendering="crispEdges" d="M163.5 233.12 L169.19 244.5 L157.81 244.5 Z" fill="#ff0000" stroke="#000" stroke-width="1"/>
<path shape-rendering="crispEdges" d="M183.5 224.12 L189.19 235.5 L177.81 235.5 Z" fill="#ff0000" stroke="#000" stroke-width="1"/>
<path shape-rendering="crispEdges" d="M211.5 254.12 L217.19 265.5 L205.81 265.5 Z" fill="#ff0000" stroke="#000" stroke-width="1"/>
<path shape-rendering="crispEdges" d="M282.5 299.12 L288.19 310.5 L276.81 310.5 Z" fill="#ff0000" stroke="#000" stroke-width="1"/>
<path shape-rendering="crispEdges" d="M330.5 326.12 L336.19 337.5 L324.81 337.5 Z" fill="#ff0000" stroke="#000" stroke-width="1"/>
<path shape-rendering="crispEdges" d="M437.5 339.12 L443.19 350.5 L431.81 350.5 Z" fill="#ff0000" stroke="#000" stroke-width="1"/>
<path shape-rendering="crispEdges" d="M557.5 382.12 L563.19 393.5 L551.81 393.5 Z" fill="#ff0000" stroke="#000" stroke-width="1"/>
<path shape-rendering="crispEdges" d="M680.5 125.12 L686.19 136.5 L674.81 136.5 Z" fill="#ff0000" stroke="#000" stroke-width="1"/>
<path shape-rendering="crispEdges" d="M700.5 139.12 L706.19 150.5 L694.81 150.5 Z" fill="#ff0000" stroke="#000" stroke-width="1"/>
<path shape-rendering="crispEdges" d="M127.5 323.88 L133.19 312.5 L121.81 312.5 Z" fill="#0000ff" stroke="#000" stroke-width="1"/>
<path shape-rendering="crispEdges" d="M159.5 281.88 L165.19 270.5 L153.81 270.5 Z" fill="#0000ff" stroke="#000" stroke-width="1"/>
<path shape-rendering="crispEdges" d="M171.5 281.88 L177.19 270.5 L165.81 270.5 Z" fill="#0000ff" stroke="#000" stroke-width="1"/>
<path shape-rendering="crispEdges" d="M207.5 295.88 L213.19 284.5 L201.81 284.5 Z" fill="#0000ff" stroke="#000" stroke-width="1"/>
<path shape-rendering="crispEdges" d="M259.5 339.88 L265.19 328.5 L253.81 328.5 Z" fill="#0000ff" stroke="#000" stroke-width="1"/>
<path shape-rendering="crispEdges" d="M322.5 364.88 L328.19 353.5 L316.81 353.5 Z" fill="#0000ff" stroke="#000" stroke-width="1"/>
<path shape-rendering="crispEdges" d="M418.5 411.88 L424.19 400.5 L412.81 400.5 Z" fill="#0000ff" stroke="#000" stroke-width="1"/>
<path shape-rendering="crispEdges" d="M505.5 450.88 L511.19 439.5 L499.81 439.5 Z" fill="#0000ff" stroke="#000" stroke-width="1"/>
<path shape-rendering="crispEdges" d="M569.5 439.88 L575.19 428.5 L563.81 428.5 Z" fill="#0000ff" stroke="#000" stroke-width="1"/>
<path shape-rendering="crispEdges" d="M688.5 226.88 L694.19 215.5 L682.81 215.5 Z" fill="#0000ff" stroke="#000" stroke-width="1"/>
<path shape-rendering="crispEdges" d="M704.5 222.88 L710.19 211.5 L698.81 211.5 Z" fill="#0000ff" stroke="#000" stroke-width="1"/>
<circle cx="382.5" cy="446.5" r="7" fill="#ffffff"/>
<path shape-rendering="crispEdges" d="M382.5 451.88 L388.19 440.5 L376.81 440.5 Z" fill="#0000ff" stroke="#000" stroke-width="1"/>
<circle cx="382.5" cy="446.5" r="7" fill="none" stroke="#f39c12" stroke-width="2.8"/>
<text x="392.7" y="449" font-size="12.4" fill="#f7b75c" textLength="11.6" lengthAdjust="spacingAndGlyphs">T1</text>
<circle cx="410.5" cy="331.5" r="7" fill="#ffffff"/>
<path shape-rendering="crispEdges" d="M410.5 326.12 L416.19 337.5 L404.81 337.5 Z" fill="#ff0000" stroke="#000" stroke-width="1"/>
<circle cx="410.5" cy="331.5" r="7" fill="none" stroke="#e85446" stroke-width="2.8"/>
<text x="421" y="334" font-size="12.4" fill="#ea7468" textLength="13.7" lengthAdjust="spacingAndGlyphs">T2</text>
<path d="M652.5 302 L663 322.5 L642 322.5 Z" fill="#2eaa5e"/>
</g>
<path shape-rendering="crispEdges" d="M650.5 67.12 L654.19 74.5 L646.81 74.5 Z" fill="#ff0000" stroke="#000" stroke-width="1"/>
<text x="660" y="76" font-size="10" fill="#262626" stroke="#fff" stroke-width="1.2" paint-order="stroke" stroke-linejoin="round">关键高点</text>
<path shape-rendering="crispEdges" d="M650.5 93.88 L654.19 86.5 L646.81 86.5 Z" fill="#0000ff" stroke="#000" stroke-width="1"/>
<text x="660" y="96" font-size="10" fill="#262626" stroke="#fff" stroke-width="1.2" paint-order="stroke" stroke-linejoin="round">关键低点</text>
<path shape-rendering="crispEdges" d="M650.5 108.12 L653.19 113.5 L647.81 113.5 Z" fill="#ffd2d2" stroke="#000" stroke-width="1"/>
<text x="659.5" y="116" font-size="10" fill="#a6a6a6">过滤点</text>
</svg></body></html>
